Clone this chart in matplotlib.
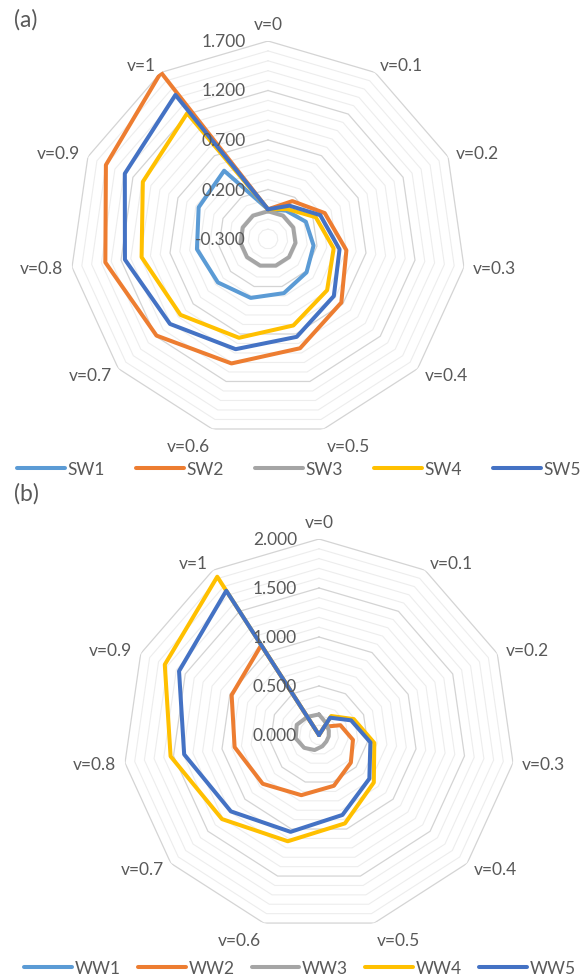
import numpy as np
import matplotlib
matplotlib.use('Agg')
import matplotlib.pyplot as plt
from matplotlib.lines import Line2D

plt.rcParams['font.family'] = ['Lato', 'DejaVu Sans']

# ---------------- data ----------------
categories = ['v=0', 'v=0.1', 'v=0.2', 'v=0.3', 'v=0.4', 'v=0.5',
              'v=0.6', 'v=0.7', 'v=0.8', 'v=0.9', 'v=1']

sw_names = ['SW1', 'SW2', 'SW3', 'SW4', 'SW5']
SW1 = [0.00, 0.04, 0.12, 0.165, 0.215, 0.27, 0.32, 0.37, 0.425, 0.47, 0.52]
SW2 = [0.00, 0.155, 0.33, 0.50, 0.68, 0.85, 1.01, 1.19, 1.36, 1.50, 1.70]
SW3 = [-0.02, -0.02, -0.02, -0.02, -0.02, -0.02, -0.02, -0.02, -0.02, -0.02, -0.02]
SW4 = [0.00, 0.06, 0.23, 0.37, 0.49, 0.61, 0.74, 0.87, 0.99, 1.09, 1.21]
SW5 = [0.00, 0.10, 0.28, 0.43, 0.58, 0.73, 0.86, 1.01, 1.16, 1.29, 1.43]

ww_names = ['WW1', 'WW2', 'WW3', 'WW4', 'WW5']
WW1 = [0.00, 0.00, 0.00, 0.00, 0.00, 0.00, 0.00, 0.00, 0.00, 0.00, 0.00]
WW2 = [0.00, 0.10, 0.24, 0.35, 0.43, 0.54, 0.64, 0.76, 0.87, 0.98, 1.09]
WW3 = [0.21, 0.14, 0.11, 0.10, 0.10, 0.12, 0.16, 0.20, 0.24, 0.25, 0.22]
WW4 = [0.00, 0.23, 0.39, 0.57, 0.74, 0.94, 1.13, 1.31, 1.53, 1.73, 1.92]
WW5 = [0.00, 0.21, 0.36, 0.53, 0.68, 0.85, 1.03, 1.19, 1.39, 1.57, 1.75]

a_ticks = [-0.3, 0.2, 0.7, 1.2, 1.7]
b_ticks = [0.0, 0.5, 1.0, 1.5, 2.0]

colors = ['#5B9BD5', '#ED7D31', '#A5A5A5', '#FFC000', '#4472C4']
TEXT = '#595959'
W, H = 586, 979

fig = plt.figure(figsize=(W / 100, H / 100), dpi=100)


def radar(center, R, ticks, series, names, legend_xy, colspacing, title, title_xy):
    cx, cy = center
    ax = fig.add_axes([(cx - R) / W, (H - cy - R) / H, 2 * R / W, 2 * R / H],
                      projection='polar')
    ax.set_theta_zero_location('N')
    ax.set_theta_direction(-1)
    rmin, rmax = ticks[0], ticks[-1]
    ax.set_ylim(rmin, rmax)
    ax.grid(False)
    ax.spines['polar'].set_visible(False)
    ax.set_xticks([])
    ax.set_yticks([])
    ax.patch.set_alpha(0)

    n = len(categories)
    ang = np.arange(n) * 2 * np.pi / n
    ang_c = np.append(ang, ang[0])

    levels = np.round(np.arange(rmin, rmax + 1e-9, 0.1), 3)
    for lv in levels[1:]:
        is_major = any(abs(lv - t) < 1e-6 for t in ticks)
        ax.plot(ang_c, [lv] * (n + 1),
                color='#D4D4D4' if is_major else '#EDEDED',
                lw=0.9 if is_major else 0.8, zorder=1 if is_major else 0.5)

    for vals, c in zip(series, colors):
        v = np.append(vals, vals[0])
        ax.plot(ang_c, v, color=c, lw=2.9, solid_joinstyle='round',
                solid_capstyle='round', zorder=3)

    for t in ticks:
        ax.annotate(f'{t:.3f}', xy=(0, t), xytext=(-22, 0),
                    textcoords='offset pixels', ha='right', va='center',
                    fontsize=12.5, color=TEXT, zorder=4)

    gap = 9
    for a, lab in zip(ang, categories):
        s, c = np.sin(a), np.cos(a)
        ha = 'left' if s > 0.2 else ('right' if s < -0.2 else 'center')
        if c > 0.9:
            va, dy = 'bottom', gap
        elif c < -0.9:
            va, dy = 'top', gap * c
        else:
            va, dy = 'center', gap * c
        ax.annotate(lab, xy=(a, rmax), xytext=(gap * s, dy),
                    textcoords='offset pixels', ha=ha, va=va,
                    fontsize=12.5, color=TEXT, annotation_clip=False)

    handles = [Line2D([], [], color=c, lw=2.9, solid_capstyle='round')
               for c in colors]
    fig.legend(handles, names, loc='center',
               bbox_to_anchor=(legend_xy[0] / W, 1 - legend_xy[1] / H),
               ncol=5, frameon=False, fontsize=12.5, labelcolor=TEXT,
               handlelength=2.75, handletextpad=0.15,
               columnspacing=colspacing, borderpad=0)
    fig.text(title_xy[0] / W, 1 - title_xy[1] / H, title, fontsize=16.5,
             color=TEXT, ha='left', va='center')


radar((268, 240), 198, a_ticks, [SW1, SW2, SW3, SW4, SW5], sw_names,
      (299, 470), 1.8, '(a)', (14, 20))
radar((319, 736), 196, b_ticks, [WW1, WW2, WW3, WW4, WW5], ww_names,
      (300, 969), 1.0, '(b)', (14, 494))

fig.savefig('out.png', dpi=100, facecolor='white')
